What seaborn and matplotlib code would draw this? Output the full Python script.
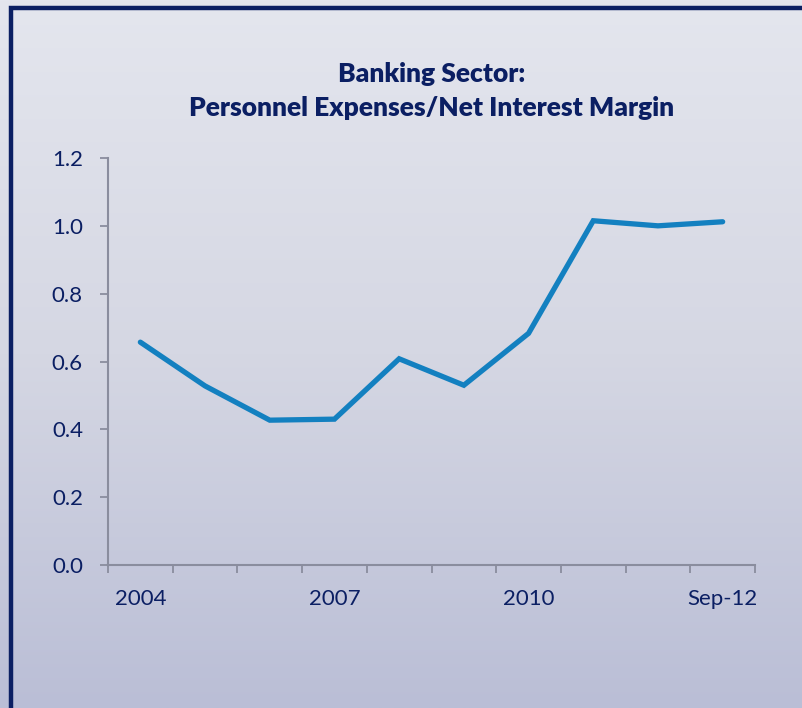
import numpy as np
import pandas as pd
import matplotlib
matplotlib.use("Agg")
import matplotlib.pyplot as plt
from matplotlib.colors import LinearSegmentedColormap
from matplotlib.patches import Rectangle
from matplotlib.ticker import FixedLocator, FormatStrFormatter
import seaborn as sns

# Data
periods = ["2004", "2005", "2006", "2007", "2008", "2009", "2010", "2011", "2012", "Sep-12"]
ratio = [0.657, 0.528, 0.427, 0.430, 0.608, 0.530, 0.683, 1.015, 1.000, 1.012]
shown_labels = ["2004", "2007", "2010", "Sep-12"]

navy = "#0B1F63"
line_blue = "#1380C0"
axis_gray = "#8A8D9E"

sns.set_style("ticks")
plt.rcParams["font.family"] = ["Lato", "DejaVu Sans"]

df = pd.DataFrame({"pos": np.arange(len(periods)), "ratio": ratio})

fig = plt.figure(figsize=(8.02, 7.08), dpi=100)

# Gradient background
bg = fig.add_axes([0, 0, 1, 1])
cmap = LinearSegmentedColormap.from_list("bg", ["#E4E6EE", "#D5D7E3", "#BABED6"])
grad = np.linspace(0, 1, 256).reshape(-1, 1)
bg.imshow(grad, aspect="auto", cmap=cmap, extent=[0, 1, 0, 1], origin="upper")
bg.axis("off")

# Dark border (top and left visible, rest cut off)
fig.patches.append(Rectangle((11 / 802, -0.1), 2.0, 700 / 708 + 0.1,
                             transform=fig.transFigure, fill=False,
                             ec=navy, lw=3.2))

ax = fig.add_axes([108 / 802, 1 - 565 / 708, (755 - 108) / 802, (565 - 158) / 708])
ax.patch.set_alpha(0)

sns.lineplot(data=df, x="pos", y="ratio", ax=ax, color=line_blue, lw=3.8,
             solid_capstyle="round", solid_joinstyle="miter")

ax.set_xlim(-0.5, len(periods) - 0.5)
ax.set_ylim(0, 1.2)
ax.set_xlabel("")
ax.set_ylabel("")

# x axis: labels on some categories, tick marks between categories
label_pos = [periods.index(p) for p in shown_labels]
ax.xaxis.set_major_locator(FixedLocator(label_pos))
ax.set_xticklabels(shown_labels)
ax.xaxis.set_minor_locator(FixedLocator(np.arange(-0.5, len(periods), 1.0)))
ax.tick_params(axis="x", which="major", length=0, pad=17, labelsize=16, labelcolor=navy)
ax.tick_params(axis="x", which="minor", length=6, width=1.3, color=axis_gray, direction="out")

ax.set_yticks(np.arange(0, 1.21, 0.2))
ax.yaxis.set_major_formatter(FormatStrFormatter("%.1f"))
ax.tick_params(axis="y", length=6, width=1.3, color=axis_gray, pad=12,
               labelsize=16, labelcolor=navy)

sns.despine(ax=ax)
for s in ["left", "bottom"]:
    ax.spines[s].set_color(axis_gray)
    ax.spines[s].set_linewidth(1.5)

ax.set_title("Banking Sector:\nPersonnel Expenses/Net Interest Margin",
             fontsize=19, fontweight="heavy", color=navy, pad=30, linespacing=1.5)

fig.savefig("out.png", dpi=100)
